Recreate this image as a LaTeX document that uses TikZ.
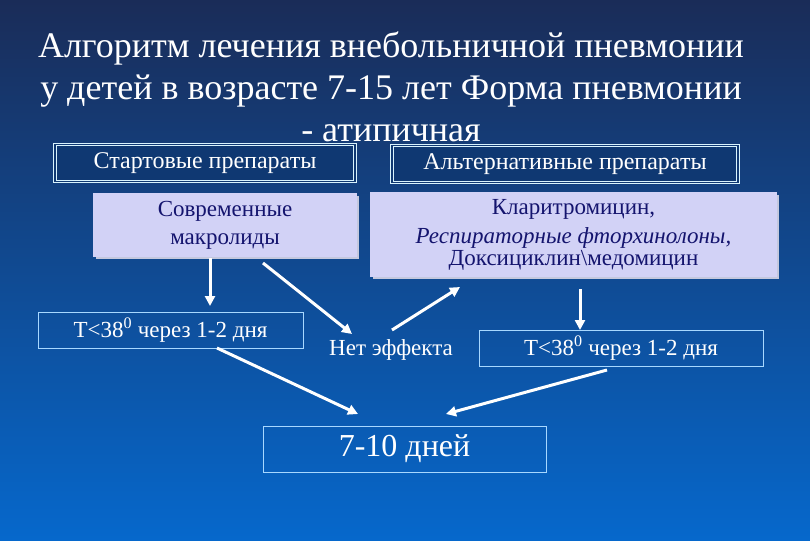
\documentclass[tikz,border=0pt]{standalone}
\usepackage{fontspec}
\setmainfont{Liberation Serif}
\usetikzlibrary{arrows.meta}
\definecolor{bgtop}{HTML}{1A2C58}
\definecolor{bgmid}{HTML}{0B4A9E}
\definecolor{bgbot}{HTML}{0668CC}
\definecolor{hdrfill}{HTML}{0F3872}
\definecolor{lav}{HTML}{D2D2F6}
\definecolor{navytext}{HTML}{14146E}
\definecolor{shadowc}{HTML}{C4C8DE}
\definecolor{cyanline}{HTML}{A8D8FF}
\tikzset{
  hdrbox/.style={draw=white!85!cyan, line width=0.8pt, double=hdrfill, double distance=1.6pt, fill=hdrfill,
    text=white, font=\fontsize{24}{28}\selectfont, inner sep=0pt},
  lavbox/.style={fill=lav, text=navytext, align=center, inner sep=0pt},
  outbox/.style={draw=cyanline, line width=1pt, text=white, inner sep=0pt},
  arr/.style={draw=white, line width=3pt, -{Triangle[length=10pt,width=10pt]}},
}
\begin{document}
\begin{tikzpicture}[x=1pt,y=-1pt]
\useasboundingbox (0,0) rectangle (810,540);
\shade[top color=bgtop, middle color=bgmid, bottom color=bgbot] (0,0) rectangle (810,540);
% title
\node[anchor=north, inner sep=0pt, text=white, align=center, font=\fontsize{36}{42}\selectfont] (title) at (391,32)
  {Алгоритм лечения внебольничной пневмонии\\у детей в возрасте 7-15 лет Форма пневмонии\\- атипичная};
% header boxes
\node[hdrbox, minimum width=300, minimum height=37] (start) at (205,163) {Стартовые препараты};
\node[hdrbox, minimum width=346, minimum height=37] (alt) at (565,164) {Альтернативные препараты};
% shadows
\fill[shadowc] (96,196) rectangle (359,259);
\fill[shadowc] (373,195) rectangle (779,279);
% lavender boxes
\node[lavbox, minimum width=264, minimum height=64, font=\fontsize{23}{28}\selectfont] (macro) at (225,225) {Современные\\макролиды};
\node[lavbox, minimum width=407, minimum height=85, font=\fontsize{23}{26}\selectfont] (altdrugs) at (573.5,234.5)
  {Кларитромицин,\\[3pt]\textit{Респираторные фторхинолоны,}\\[-4pt]Доксициклин\textbackslash медомицин};
% outline boxes
\node[outbox, minimum width=265, minimum height=36, font=\fontsize{23}{28}\selectfont] (tleft) at (170.5,330) {T<38\textsuperscript{0} через 1-2 дня};
\node[outbox, minimum width=284, minimum height=36, font=\fontsize{23}{28}\selectfont] (tright) at (621,348) {T<38\textsuperscript{0} через 1-2 дня};
\node[outbox, minimum width=283, minimum height=46, font=\fontsize{32}{36}\selectfont] (days) at (404.5,449) {7-10 дней};
\node[inner sep=0pt, text=white, font=\fontsize{23}{28}\selectfont] (noeff) at (391,350) {Нет эффекта};
% connector end points
\coordinate (m1) at (210,258);
\coordinate (t1) at (210,306);
\coordinate (m2) at (263,263);
\coordinate (n1) at (352,334);
\coordinate (n2) at (392,330);
\coordinate (a1) at (460,287);
\coordinate (a2) at (580,289);
\coordinate (t2) at (580,330);
\coordinate (tl) at (217,348);
\coordinate (d1) at (358,414);
\coordinate (tr) at (607,370);
\coordinate (d2) at (446,414);
\draw[arr] (m1) -- (t1);
\draw[arr] (m2) -- (n1);
\draw[arr] (n2) -- (a1);
\draw[arr] (a2) -- (t2);
\draw[arr] (tl) -- (d1);
\draw[arr] (tr) -- (d2);
\end{tikzpicture}
\end{document}
